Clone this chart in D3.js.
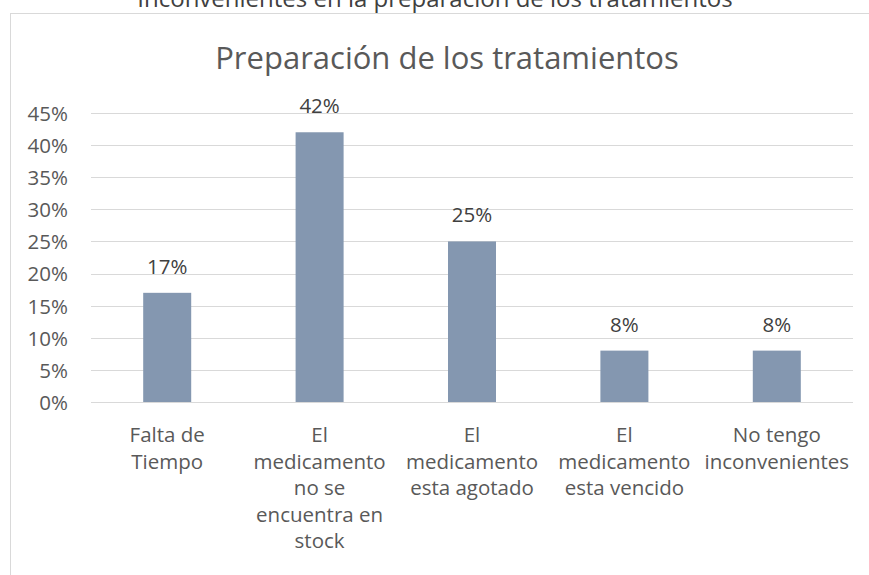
<!DOCTYPE html>
<html><head><meta charset="utf-8">
<script src="https://cdn.jsdelivr.net/npm/d3@7"></script>
<style>body{margin:0;background:#fff}svg{display:block}</style>
</head><body>
<svg id="c" width="869" height="575"></svg>
<script>
const categories = ["Falta de Tiempo","El medicamento no se encuentra en stock","El medicamento esta agotado","El medicamento esta vencido","No tengo inconvenientes"];
const categoryLines = [["Falta de","Tiempo"],["El","medicamento","no se","encuentra en","stock"],["El","medicamento","esta agotado"],["El","medicamento","esta vencido"],["No tengo","inconvenientes"]];
const values = [0.17,0.42,0.25,0.08,0.08];
const yTicks = [0,0.05,0.10,0.15,0.20,0.25,0.30,0.35,0.40,0.45];
const outerTitle = "Inconvenientes en la preparación de los tratamientos";
const chartTitle = "Preparación de los tratamientos";

(function(){
const svg = d3.select("#c");
const font = "'Open Sans', sans-serif";
const pLeft=91, pRight=853, pTop=113, pBottom=402;

svg.append("line").attr("x1",10.5).attr("x2",10.5).attr("y1",13).attr("y2",575).attr("stroke","#d9d9d9");
svg.append("line").attr("x1",10).attr("x2",869).attr("y1",13.5).attr("y2",13.5).attr("stroke","#d9d9d9");

svg.append("text").attr("x",435).attr("y",7).attr("text-anchor","middle")
  .attr("font-family",font).attr("font-size",24).attr("fill","#404040").text(outerTitle);
svg.append("text").attr("x",447).attr("y",69).attr("text-anchor","middle")
  .attr("font-family",font).attr("font-size",31).attr("fill","#595959").text(chartTitle);

const x = d3.scaleBand().domain(categories).range([pLeft,pRight]).paddingInner(0.685).paddingOuter(0.3425);
const y = d3.scaleLinear().domain([0,0.45]).range([pBottom,pTop]);

svg.append("g").selectAll("line").data(yTicks).join("line")
  .attr("x1",pLeft).attr("x2",pRight)
  .attr("y1",d=>Math.round(y(d))+0.5).attr("y2",d=>Math.round(y(d))+0.5)
  .attr("stroke","#d9d9d9").attr("stroke-width",1);

const yAxis = d3.axisLeft(y).tickValues(yTicks).tickFormat(d3.format(".0%")).tickSize(0).tickPadding(0);
const ga = svg.append("g").attr("transform",`translate(68,0)`).call(yAxis);
ga.select(".domain").remove();
ga.selectAll("text").attr("font-family",font).attr("font-size",20.5).attr("fill","#595959").attr("dy","0.36em");

svg.append("g").selectAll("rect").data(values).join("rect")
  .attr("x",(d,i)=>x(categories[i])).attr("width",x.bandwidth())
  .attr("y",d=>y(d)).attr("height",d=>y(0)-y(d)).attr("fill","#8497b0");

svg.append("g").selectAll("text").data(values).join("text")
  .attr("x",(d,i)=>x(categories[i])+x.bandwidth()/2).attr("y",d=>y(d)-19)
  .attr("text-anchor","middle").attr("font-family",font).attr("font-size",20.5).attr("fill","#404040")
  .text(d=>d3.format(".0%")(d));

const gl = svg.append("g");
categoryLines.forEach((lines,i)=>{
  const cx = x(categories[i])+x.bandwidth()/2;
  const t = gl.append("text").attr("text-anchor","middle").attr("font-family",font).attr("font-size",20.5).attr("fill","#595959");
  lines.forEach((ln,j)=>t.append("tspan").attr("x",cx).attr("y",442+j*26.6).text(ln));
});
})();
</script>
</body></html>
